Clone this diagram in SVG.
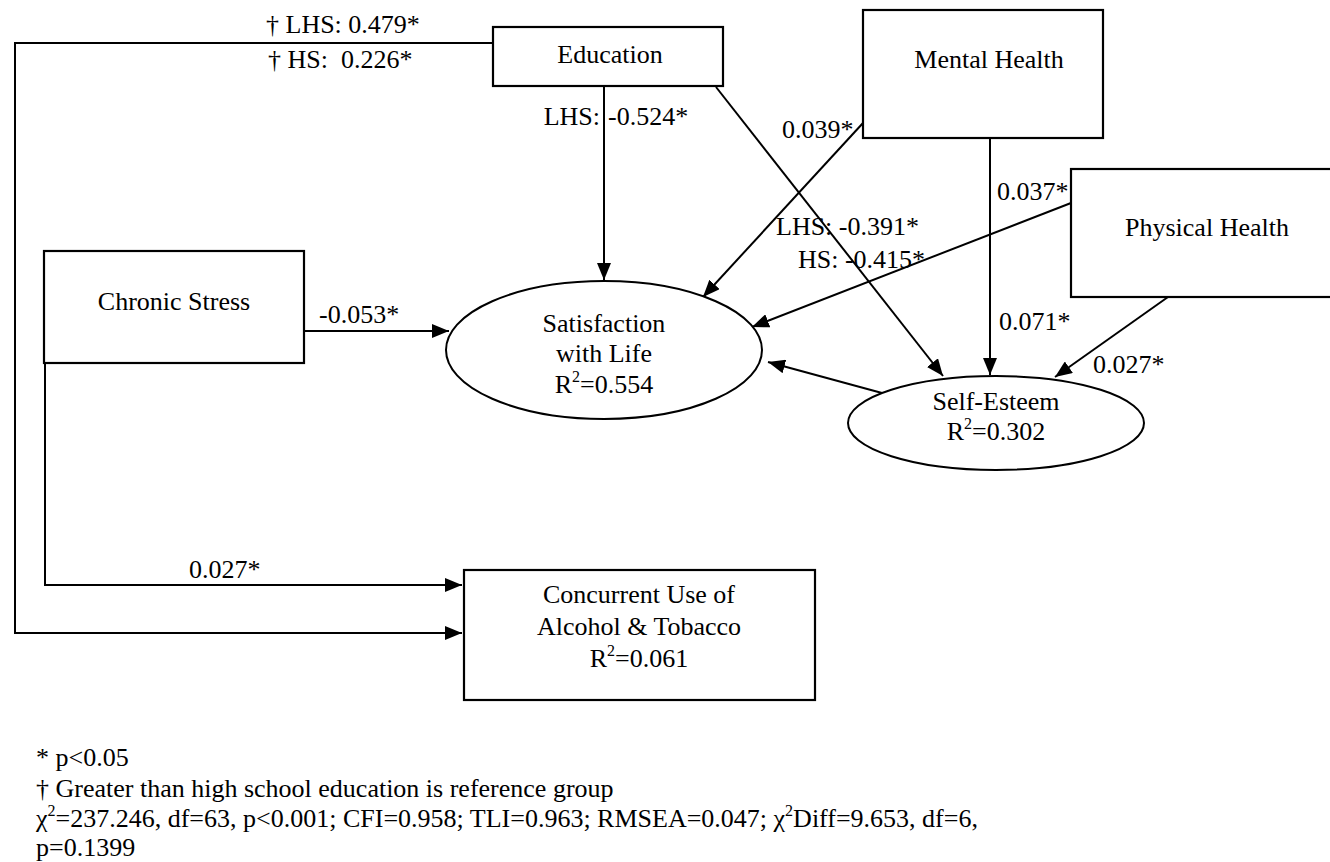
<svg xmlns="http://www.w3.org/2000/svg" width="1330" height="862" viewBox="0 0 1330 862" font-family="'Liberation Serif', 'Times New Roman', Times, serif">
  <style>
    text { font-family: "Liberation Serif", "Times New Roman", Times, serif; font-size: 26px; fill: #000; }
    .box { fill: #fff; stroke: #000; stroke-width: 2.2; }
    .oval { fill: #fff; stroke: #000; stroke-width: 2; }
    .link { fill: none; stroke: #000; stroke-width: 2; }
    .mid { text-anchor: middle; }
  </style>
  <defs>
    <marker id="arrow" markerUnits="userSpaceOnUse" markerWidth="18" markerHeight="14" refX="17" refY="7" orient="auto">
      <path d="M0,0 L17,7 L0,14 z" fill="#000"/>
    </marker>
  </defs>

  <!-- paths between constructs -->
  <g id="connectors">
    <polyline class="link" points="493,43 15,43 15,633 462,633" marker-end="url(#arrow)"/>
    <polyline class="link" points="45,363 45,585 462,585" marker-end="url(#arrow)"/>
    <line class="link" x1="304" y1="331" x2="449" y2="331" marker-end="url(#arrow)"/>
    <line class="link" x1="604" y1="86" x2="604" y2="280" marker-end="url(#arrow)"/>
    <line class="link" x1="716" y1="87" x2="943" y2="376" marker-end="url(#arrow)"/>
    <line class="link" x1="863" y1="123" x2="703" y2="297" marker-end="url(#arrow)"/>
    <line class="link" x1="990" y1="138" x2="990" y2="375" marker-end="url(#arrow)"/>
    <line class="link" x1="1071" y1="203" x2="752" y2="327" marker-end="url(#arrow)"/>
    <line class="link" x1="1168" y1="297" x2="1055" y2="377" marker-end="url(#arrow)"/>
    <line class="link" x1="882" y1="393" x2="768" y2="362" marker-end="url(#arrow)"/>
  </g>

  <!-- path coefficients -->
  <g id="coefficients">
    <text x="266" y="33">† LHS: 0.479*</text>
    <text x="268" y="68">† HS:&#160; 0.226*</text>
    <text x="600" y="125" text-anchor="end">LHS:</text>
    <text x="608" y="125">-0.524*</text>
    <text x="782" y="138">0.039*</text>
    <text x="997" y="200">0.037*</text>
    <text x="776" y="235">LHS: -0.391*</text>
    <text x="798" y="268">HS: -0.415*</text>
    <text x="319" y="323">-0.053*</text>
    <text x="999" y="330">0.071*</text>
    <text x="1093" y="373">0.027*</text>
    <text x="189" y="578">0.027*</text>
  </g>

  <g id="education">
    <rect class="box" x="493" y="27" width="230" height="59"/>
    <text class="mid" x="610" y="63">Education</text>
  </g>

  <g id="mental-health">
    <rect class="box" x="863" y="10" width="240" height="128"/>
    <text class="mid" x="989" y="68">Mental Health</text>
  </g>

  <g id="physical-health">
    <rect class="box" x="1071" y="169" width="272" height="128"/>
    <text class="mid" x="1207" y="236">Physical Health</text>
  </g>

  <g id="chronic-stress">
    <rect class="box" x="44" y="251" width="260" height="112"/>
    <text class="mid" x="174" y="310">Chronic Stress</text>
  </g>

  <g id="satisfaction-with-life">
    <ellipse class="oval" cx="604" cy="350" rx="158" ry="69"/>
    <text class="mid" x="604" y="332">Satisfaction</text>
    <text class="mid" x="604" y="362">with Life</text>
    <text class="mid" x="604" y="393">R<tspan font-size="16" dy="-11">2</tspan><tspan dy="11">=0.554</tspan></text>
  </g>

  <g id="self-esteem">
    <ellipse class="oval" cx="996" cy="423" rx="148" ry="47"/>
    <text class="mid" x="996" y="410">Self-Esteem</text>
    <text class="mid" x="996" y="440">R<tspan font-size="16" dy="-11">2</tspan><tspan dy="11">=0.302</tspan></text>
  </g>

  <g id="concurrent-use">
    <rect class="box" x="464" y="570" width="351" height="130"/>
    <text class="mid" x="639" y="603">Concurrent Use of</text>
    <text class="mid" x="639" y="635">Alcohol &amp; Tobacco</text>
    <text class="mid" x="639" y="667">R<tspan font-size="16" dy="-11">2</tspan><tspan dy="11">=0.061</tspan></text>
  </g>

  <!-- notes under the model -->
  <g id="notes">
    <text x="36" y="766">* p&lt;0.05</text>
    <text x="36" y="797">† Greater than high school education is reference group</text>
    <text x="36" y="827">χ<tspan font-size="16" dy="-11">2</tspan><tspan dy="11">=237.246, df=63, p&lt;0.001; CFI=0.958; TLI=0.963; RMSEA=0.047; χ</tspan><tspan font-size="16" dy="-11">2</tspan><tspan dy="11">Diff=9.653, df=6,</tspan></text>
    <text x="36" y="856">p=0.1399</text>
  </g>
</svg>
